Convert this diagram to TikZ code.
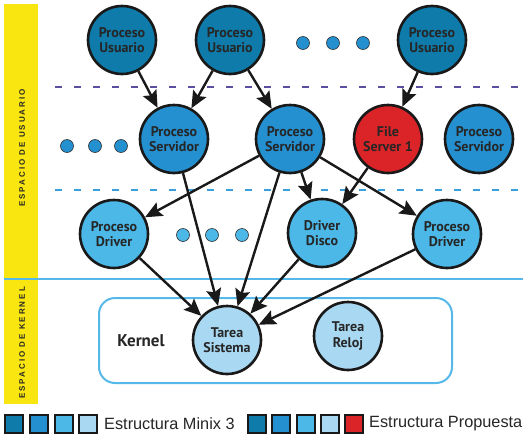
\documentclass[tikz,border=0pt]{standalone}
\usepackage{fontspec}
\setmainfont{Liberation Sans}
\newfontfamily\nodefont{PT Sans}
\usetikzlibrary{arrows.meta}
\definecolor{cdark}{HTML}{0E7BAA}
\definecolor{cmid}{HTML}{2490D0}
\definecolor{cdrv}{HTML}{4BB8E8}
\definecolor{clight}{HTML}{A8D8F2}
\definecolor{cred}{HTML}{DA2428}
\definecolor{cyel}{HTML}{F9E510}
\definecolor{cpurp}{HTML}{5A4E9E}
\definecolor{cdash}{HTML}{3AA0DD}
\definecolor{cline}{HTML}{55B8E8}
\tikzset{
  proc/.style={circle,draw=black!90,line width=2.6pt,minimum size=68pt,inner sep=0pt,
    align=center,font=\nodefont\bfseries\fontsize{14}{15.5}\selectfont,text=black!85},
  dotc/.style={circle,draw=black!80,line width=0.6pt,fill=cmid,minimum size=13pt,inner sep=0pt},
  arr/.style={line width=2.4pt,black!90,-{Stealth[length=17pt,width=15pt,inset=3pt]}},
  leg/.style={draw=black!90,line width=2pt,minimum size=18pt,inner sep=0pt},
  vlab/.style={rotate=90,font=\bfseries\fontsize{8}{9}\selectfont\addfontfeature{LetterSpace=25},text=black!85}
}
\begin{document}
\begin{tikzpicture}[x=1pt,y=-1pt]
\useasboundingbox (0,0) rectangle (523,437);
\fill[white] (0,0) rectangle (523,437);
% yellow bar
\fill[cyel] (4,4) rectangle (38,404);
\node[vlab] (lu) at (22,148) {ESPACIO DE USUARIO};
\node[vlab] (lk) at (22,343) {ESPACIO DE KERNEL};
% separators
\draw[cpurp,line width=2.5pt,dash pattern=on 7pt off 12pt] (55,87) -- (523,87);
\draw[cdash,line width=2.5pt,dash pattern=on 7pt off 12pt] (55,190) -- (523,190);
\draw[cline,line width=2.5pt] (4,279) -- (523,279);
% kernel box
\draw[cline,line width=2pt,rounded corners=16pt] (99,298) rectangle (452,383);
\node[font=\nodefont\bfseries\fontsize{17}{19}\selectfont,text=black!85] (kern) at (141,341) {Kernel};
% nodes
\node[proc,fill=cdark] (pu1) at (122,40) {Proceso\\Usuario};
\node[proc,fill=cdark] (pu2) at (230,40) {Proceso\\Usuario};
\node[proc,fill=cdark] (pu3) at (432,40) {Proceso\\Usuario};
\node[proc,fill=cmid] (ps1) at (174,139) {Proceso\\Servidor};
\node[proc,fill=cmid] (ps2) at (290,139) {Proceso\\Servidor};
\node[proc,fill=cred] (fs1) at (388,139) {File\\Server 1};
\node[proc,fill=cmid] (ps3) at (479,139) {Proceso\\Servidor};
\node[proc,fill=cdrv] (pd1) at (114,234) {Proceso\\Driver};
\node[proc,fill=cdrv] (dd) at (322,233) {Driver\\Disco};
\node[proc,fill=cdrv] (pd2) at (447,234) {Proceso\\Driver};
\node[proc,fill=clight] (ts) at (227,340) {Tarea\\Sistema};
\node[proc,fill=clight] (tr) at (348,336) {Tarea\\Reloj};
% dots
\node[dotc] (d1) at (303,43) {};
\node[dotc] (d2) at (333,43) {};
\node[dotc] (d3) at (363,43) {};
\node[dotc] (d4) at (67,146) {};
\node[dotc] (d5) at (95,146) {};
\node[dotc] (d6) at (121,146) {};
\node[dotc,fill=cdrv] (d7) at (183,235) {};
\node[dotc,fill=cdrv] (d8) at (212,235) {};
\node[dotc,fill=cdrv] (d9) at (242,235) {};
% arrows
\draw[arr] (pu1) -- (ps1);
\draw[arr] (pu2) -- (ps1);
\draw[arr] (pu2) -- (ps2);
\draw[arr] (pu3) -- (fs1);
\draw[arr] (ps1) -- (ts);
\draw[arr] (ps2) -- (pd1);
\draw[arr] (ps2) -- (ts);
\draw[arr] (ps2) -- (dd);
\draw[arr] (ps2) -- (pd2);
\draw[arr] (fs1) -- (dd);
\draw[arr] (pd1) -- (ts);
\draw[arr] (dd) -- (ts);
\draw[arr] (pd2) -- (ts);
% legend
\node[leg,fill=cdark] (l1) at (14,424) {};
\node[leg,fill=cmid] (l2) at (39,424) {};
\node[leg,fill=cdrv] (l3) at (64,424) {};
\node[leg,fill=clight] (l4) at (88,424) {};
\node[anchor=west,font=\fontsize{16.3}{18}\selectfont,text=black!85,inner sep=0pt] (t1) at (104,424) {Estructura Minix 3};
\node[leg,fill=cdark] (m1) at (257,424) {};
\node[leg,fill=cmid] (m2) at (281,424) {};
\node[leg,fill=cdrv] (m3) at (306,424) {};
\node[leg,fill=clight] (m4) at (330,424) {};
\node[leg,fill=cred] (m5) at (354,424) {};
\node[anchor=west,font=\fontsize{16.3}{18}\selectfont,text=black!85,inner sep=0pt] (t2) at (369,424) {Estructura Propuesta};
\end{tikzpicture}
\end{document}
